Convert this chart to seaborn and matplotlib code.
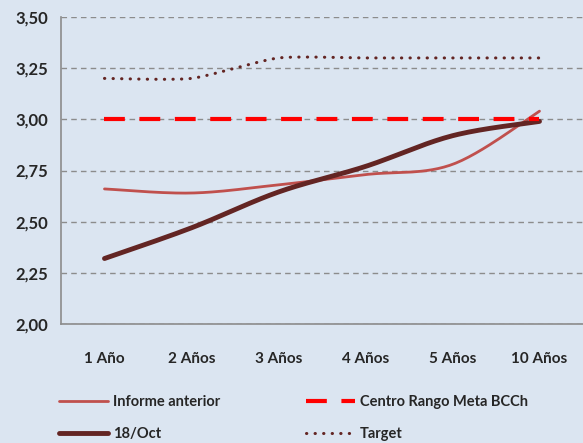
import numpy as np
import matplotlib
matplotlib.use("Agg")
import matplotlib.pyplot as plt
import seaborn as sns
from matplotlib.lines import Line2D

categories = ["1 Año", "2 Años", "3 Años", "4 Años", "5 Años", "10 Años"]
informe_anterior = [2.66, 2.64, 2.68, 2.73, 2.78, 3.04]
oct_18 = [2.32, 2.47, 2.645, 2.77, 2.92, 2.99]
meta_bcch = [3.00, 3.00, 3.00, 3.00, 3.00, 3.00]
target = [3.20, 3.20, 3.30, 3.30, 3.30, 3.30]

bg = "#dbe5f1"


def smooth(y, n=30, tension=0.5):
    # Catmull-Rom curve through the points, like Excel's smoothed lines
    y = np.asarray(y, dtype=float)
    x = np.arange(len(y), dtype=float)
    px = np.concatenate([[x[0]], x, [x[-1]]])
    py = np.concatenate([[y[0]], y, [y[-1]]])
    xs, ys = [], []
    for i in range(1, len(px) - 2):
        t = np.linspace(0, 1, n, endpoint=(i == len(px) - 3))
        h00 = 2 * t ** 3 - 3 * t ** 2 + 1
        h10 = t ** 3 - 2 * t ** 2 + t
        h01 = -2 * t ** 3 + 3 * t ** 2
        h11 = t ** 3 - t ** 2
        for p, out in ((px, xs), (py, ys)):
            m1 = tension * (p[i + 1] - p[i - 1])
            m2 = tension * (p[i + 2] - p[i])
            out.extend(h00 * p[i] + h10 * m1 + h01 * p[i + 1] + h11 * m2)
    return np.array(xs), np.array(ys)


sns.set_style("white")
plt.rcParams["font.family"] = ["Lato", "DejaVu Sans"]
plt.rcParams["font.weight"] = "bold"

fig = plt.figure(figsize=(5.83, 4.43), dpi=100, facecolor=bg)
ax = fig.add_axes([0.1046, 0.2686, 0.8954, 0.693])
ax.set_facecolor(bg)

x, y = smooth(informe_anterior)
sns.lineplot(x=x, y=y, sort=False, color="#c0504d", lw=2, ax=ax)
x, y = smooth(oct_18)
sns.lineplot(x=x, y=y, sort=False, color="#632523", lw=3.5, ax=ax)
sns.lineplot(x=np.arange(len(meta_bcch)), y=meta_bcch, color="#ff0000", lw=3,
             ax=ax, dashes=False).lines[-1].set_dashes([5, 3.5])
x, y = smooth(target, tension=0.3)
ax.plot(x, y, color="#632523", lw=2.2, ls=(0, (0.1, 2.7)), dash_capstyle="round")

ax.set_xlim(-0.5, 5.5)
ax.set_ylim(2.0, 3.5)
yt = np.arange(2.0, 3.51, 0.25)
ax.set_yticks(yt)
ax.set_yticklabels([f"{v:.2f}".replace(".", ",") for v in yt], fontsize=12, fontweight="bold")
ax.yaxis.grid(True, color="#8c8c8c", ls=(0, (4, 3)), lw=1)
ax.set_xticks(np.arange(len(categories)))
ax.set_xticklabels(categories, fontsize=11, fontweight="bold")
ax.set_xticks(np.arange(-0.5, 5.6, 1), minor=True)
ax.tick_params(axis="x", which="major", length=0, pad=20)
ax.tick_params(axis="x", which="minor", length=5, color="#8c8c8c", direction="out")
ax.tick_params(axis="y", length=5, color="#8c8c8c", direction="out", pad=4)
for s in ["top", "right"]:
    ax.spines[s].set_visible(False)
for s in ["left", "bottom"]:
    ax.spines[s].set_color("#8c8c8c")
    ax.spines[s].set_linewidth(1.2)

handles = [
    Line2D([], [], color="#c0504d", lw=2),
    Line2D([], [], color="#632523", lw=3.5),
    Line2D([], [], color="#ff0000", lw=3, dashes=[5, 3.5]),
    Line2D([], [], color="#632523", lw=2.2, ls=(0, (0.1, 2.7)), dash_capstyle="round"),
]
labels = ["Informe anterior", "18/Oct", "Centro Rango Meta BCCh", "Target"]
fig.legend(handles, labels, ncol=2, loc="lower left", bbox_to_anchor=(0.078, -0.025),
           frameon=False, prop={"size": 10.5, "weight": "bold"},
           handlelength=3.4, handletextpad=0.3, columnspacing=5.9, labelspacing=1.2)

fig.savefig("out.png", dpi=100, facecolor=bg)
